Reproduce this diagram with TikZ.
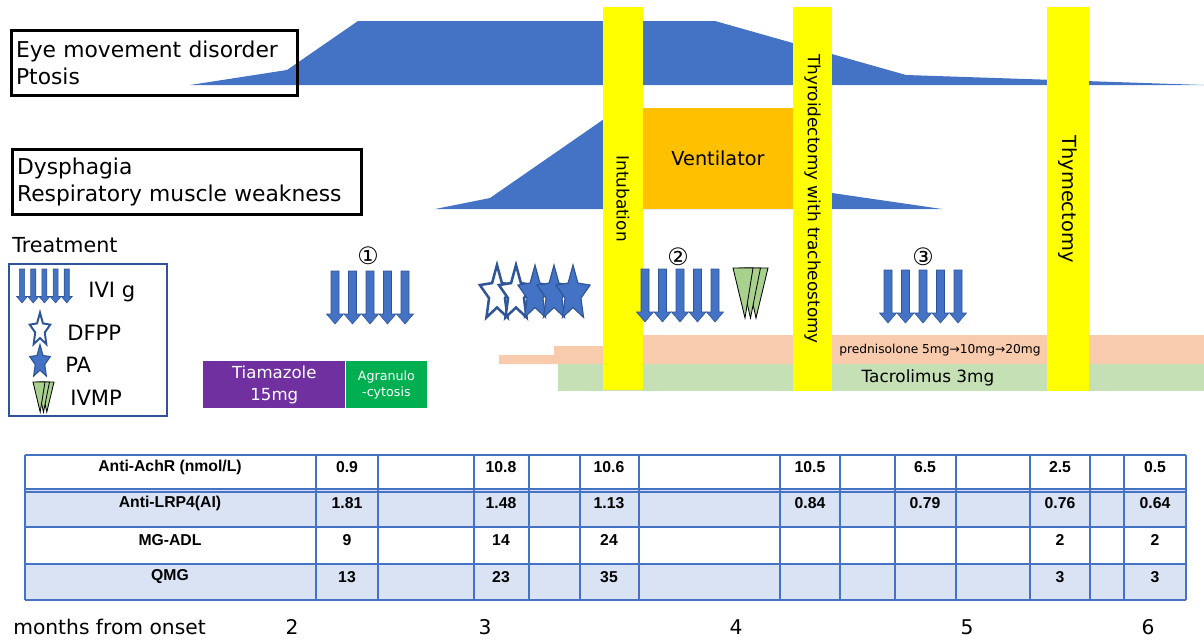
\documentclass[tikz,border=0pt]{standalone}
\usepackage{fontspec}
\setmainfont{DejaVu Sans}
\newfontfamily\tablefont{Liberation Sans}
\usetikzlibrary{positioning}

\definecolor{mgblue}{HTML}{4472C4}
\definecolor{darkblue}{HTML}{2F5597}
\definecolor{baryellow}{HTML}{FFFF00}
\definecolor{ventorange}{HTML}{FFC000}
\definecolor{predsalmon}{HTML}{F8CBAD}
\definecolor{tacgreen}{HTML}{C5E0B4}
\definecolor{tiapurple}{HTML}{7030A0}
\definecolor{agrgreen}{HTML}{00B050}
\definecolor{ivmpgreen}{HTML}{A9D18E}
\definecolor{rowblue}{HTML}{DAE3F3}

\begin{document}
\begin{tikzpicture}[
    x=0.025cm, y=-0.025cm,
    every node/.style={inner sep=0pt},
    symptom/.style={
        draw=black,
        line width=1.8pt,
        anchor=north west,
        align=left,
        inner xsep=0.12cm,
        minimum height=1.625cm,
        font=\fontsize{15.5}{19}\selectfont
    },
    eventbar/.style={
        fill=baryellow,
        rotate=-90,
        minimum width=9.575cm,
        minimum height=1cm,
        font=\fontsize{12}{14}\selectfont
    },
    drug/.style={
        rectangle,
        text=white,
        align=center,
        minimum height=1.175cm
    },
    legendtext/.style={anchor=west, font=\fontsize{15}{17}\selectfont},
    course/.style={font=\fontsize{17}{19}\selectfont},
    cell/.style={font=\tablefont\bfseries\fontsize{11.2}{13}\selectfont},
    month/.style={font=\fontsize{14.4}{16}\selectfont},
    gridline/.style={draw=mgblue, line width=0.9pt},
    dfpp/.style={draw=darkblue, fill=white, line width=1.8pt},
    pa/.style={draw=darkblue, fill=mgblue, line width=0.8pt},
    ivig/.pic={
        \foreach \k in {0,...,4}
            \filldraw[fill=mgblue, draw=darkblue, line width=0.4pt]
                ({17.5*\k-4},0) -- ++(8,0) -- ++(0,43) -- ++(4.5,0)
                -- ({17.5*\k},53) -- ++(-8.5,-10) -- ++(4.5,0) -- cycle;
    },
    mgstar/.pic={
        \path[pic actions, xscale=0.62] (-90:29) -- (-54:13.5) -- (-18:29) -- (18:13.5)
            -- (54:29) -- (90:13.5) -- (126:29) -- (162:13.5) -- (198:29) -- (234:13.5) -- cycle;
    },
    ivmp/.pic={
        \foreach \k in {2,1,0}
            \filldraw[fill=ivmpgreen, draw=black, line width=0.6pt]
                ({6*\k},0) -- ({20+7.5*\k},0) -- ({12+5.5*\k},50) -- cycle;
    }
]
\useasboundingbox (0,0) rectangle (1204,639);

% symptom courses
\fill[mgblue] (190,85) -- (287,70) -- (358,21) -- (715,21) -- (906,75) -- (1204,85) -- cycle;
\fill[mgblue] (435,209) -- (490,198) -- (620,108) -- (793,108) -- (832,193) -- (942,209) -- cycle;
\node[fill=ventorange, minimum width=3.75cm, minimum height=2.525cm,
      font=\fontsize{13.7}{16}\selectfont] (vent) at (718,158.5) {Ventilator};

\node[symptom, minimum width=7.15cm, text width=6.91cm] (eye) at (10,29)
    {Eye movement disorder\\Ptosis};
\node[symptom, minimum width=8.725cm, text width=8.485cm] (bulbar) at (11,148)
    {Dysphagia\\Respiratory muscle weakness};

% maintenance drugs
\fill[predsalmon] (499,355) -- (554,355) -- (554,346) -- (603,346) -- (603,335)
    -- (1204,335) -- (1204,364) -- (499,364) -- cycle;
\fill[tacgreen] (558,364) rectangle (1204,391);
\node[font=\fontsize{8.7}{10}\selectfont] (pred) at (940,350)
    {prednisolone 5mg→10mg→20mg};
\node[font=\fontsize{12}{14}\selectfont] (tac) at (928,378) {Tacrolimus 3mg};

% events
\node[eventbar] (intub) at (623,198.5) {Intubation};
\node[eventbar, minimum height=0.975cm] (thyroid) at (812.5,199) {Thyroidectomy with tracheostomy};
\node[eventbar, minimum height=1.05cm, font=\fontsize{13.8}{16}\selectfont] (thymus) at (1068,199) {Thymectomy};

% treatments
\pic at (335,271) {ivig};
\pic at (645,269) {ivig};
\pic at (888,270) {ivig};
\node[course] (c1) at (368,256) {①};
\node[course] (c2) at (678,257) {②};
\node[course] (c3) at (923,257) {③};

\foreach \cx in {497,516} \pic[dfpp] at (\cx,294) {mgstar};
\foreach \cx in {535,554,573} \pic[pa] at (\cx,294) {mgstar};
\pic at (733,268) {ivmp};

\node[drug, fill=tiapurple, minimum width=3.55cm, anchor=north west,
      font=\fontsize{11.8}{15.6}\selectfont] (tia) at (203,361) {Tiamazole\\15mg};
\node[drug, fill=agrgreen, minimum width=2.025cm, right=0pt of tia,
      font=\fontsize{9}{11.4}\selectfont] (agr) {Agranulo\\-cytosis};

% legend
\node[anchor=west, font=\fontsize{14.7}{17}\selectfont] (treat) at (12,245) {Treatment};
\draw[darkblue, line width=1.5pt] (9,264) rectangle (167,416);
\pic[scale=0.64] at (22,269) {ivig};
\pic[dfpp, line width=1.4pt, scale=0.6] at (40,330) {mgstar};
\pic[pa, scale=0.6] at (40,362) {mgstar};
\pic[scale=0.6] at (33,382) {ivmp};
\node[legendtext] (l-ivig) at (88,292) {IVI g};
\node[legendtext] (l-dfpp) at (67,333) {DFPP};
\node[legendtext] (l-pa) at (65,365) {PA};
\node[legendtext] (l-ivmp) at (70,398) {IVMP};

% table
\fill[rowblue] (25,490) rectangle (1186,527);
\fill[rowblue] (25,564) rectangle (1186,600);
\foreach \yy in {455,489,492,527,564,600}
    \draw[gridline] (25,\yy) -- (1186,\yy);
\foreach \xx in {25,316,378,474,529,580,639,780,840,895,956,1030,1090,1124,1186}
    \draw[gridline] (\xx,455) -- (\xx,600);

\node[cell] (r1) at (170,467) {Anti-AchR (nmol/L)};
\node[cell] (r2) at (170,503) {Anti-LRP4(AI)};
\node[cell] (r3) at (170,540) {MG-ADL};
\node[cell] (r4) at (170,577) {QMG};
\foreach \xx/\va/\vb/\vc/\vd in {347/0.9/1.81/9/13, 501/10.8/1.48/14/23,
        609/10.6/1.13/24/35, 810/10.5/0.84/ / , 925/6.5/0.79/ / ,
        1060/2.5/0.76/2/3, 1155/0.5/0.64/2/3} {
    \node[cell] (a-\xx) at (\xx,467) {\va};
    \node[cell] (b-\xx) at (\xx,503) {\vb};
    \node[cell] (c-\xx) at (\xx,540) {\vc};
    \node[cell] (d-\xx) at (\xx,577) {\vd};
}

% time axis
\node[month, anchor=west] (axis) at (13,627) {months from onset};
\foreach \xx/\m in {292/2, 485/3, 736/4, 967/5, 1148/6}
    \node[month] (m\m) at (\xx,627) {\m};

\end{tikzpicture}
\end{document}
